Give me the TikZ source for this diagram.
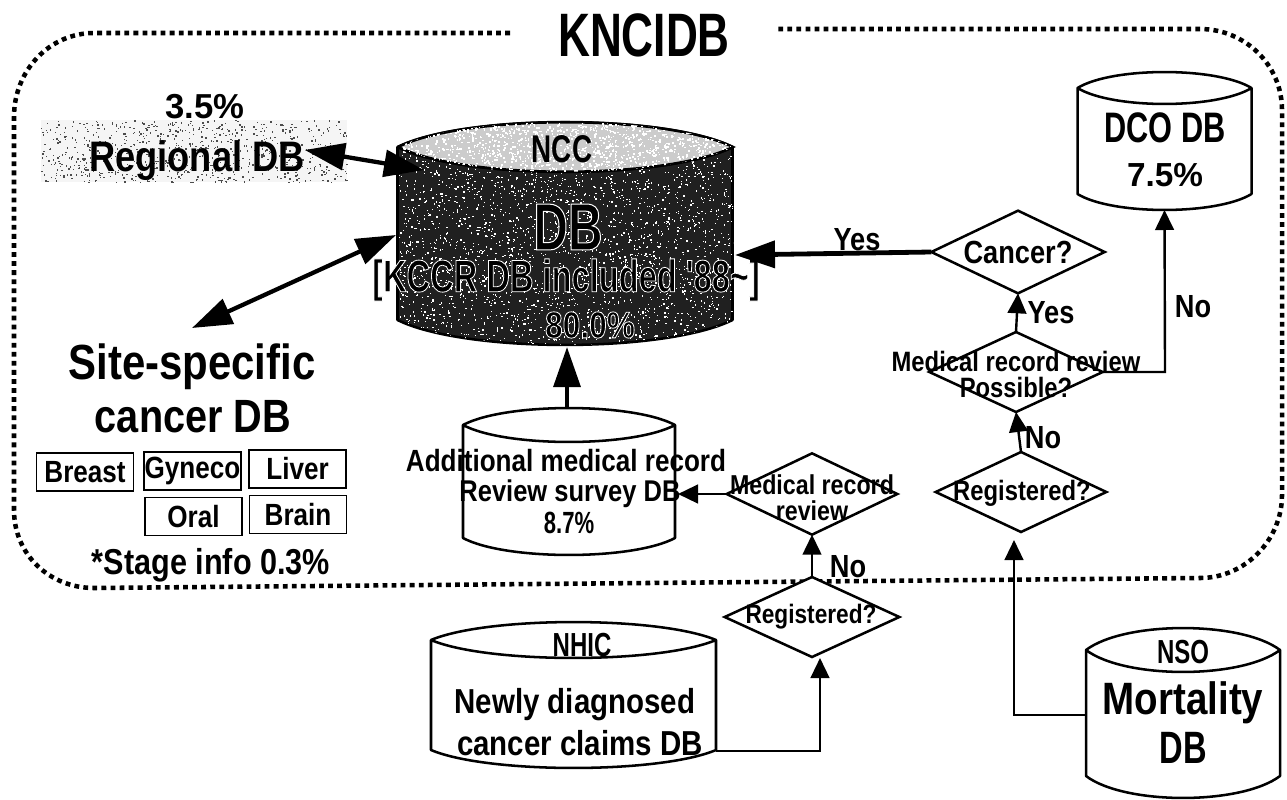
\documentclass[tikz,border=0pt]{standalone}
\usepackage{fontspec}
\usetikzlibrary{shapes.geometric,arrows.meta,calc}
\setmainfont{Liberation Sans}
\newfontfamily\nar[FakeStretch=0.72]{Liberation Sans Bold}
\newfontfamily\mdn[FakeStretch=0.85]{Liberation Sans Bold}
\newfontfamily\wid{Liberation Sans Bold}
\newcommand\fs[1]{\fontsize{#1}{#1}\selectfont}
\newcommand\hollow[2]{\special{pdf:code 2 Tr #1 w 1 1 1 RG}#2\special{pdf:code 0 Tr}}
% name, centre x, top y, bottom y, x radius, y radius, fill
\newcommand\dbcyl[7]{%
  \node[inner sep=0,outer sep=0,minimum width=#5*1.5pt,minimum height=(#4-#3)*0.75pt] (#1) at (#2,{(#3+#4)/2}) {};
  \draw[line width=1.9pt,fill=#7,line join=round] (#2-#5,#3+#6) -- (#2-#5,#4-#6)
    .. controls (#2-#5*0.6,#4+#6*0.33) and (#2+#5*0.6,#4+#6*0.33) .. (#2+#5,#4-#6)
    -- (#2+#5,#3+#6)
    .. controls (#2+#5*0.6,#3-#6*0.33) and (#2-#5*0.6,#3-#6*0.33) .. (#2-#5,#3+#6)
    .. controls (#2-#5*0.6,#3+#6*2.33) and (#2+#5*0.6,#3+#6*2.33) .. (#2+#5,#3+#6);
}
\tikzset{
  x=0.75pt,y=-0.75pt,
  txt/.style={inner sep=0,outer sep=0,align=center},
  decide/.style={draw,diamond,line width=1.9pt,inner sep=0,outer sep=0,fill=white},
  sitebox/.style={draw,line width=1.2pt,inner sep=0,outer sep=0,minimum width=73pt,minimum height=28.5pt,font=\mdn\fs{23}},
  heavy/.style={line width=3.2pt,{Triangle[length=30pt,width=20pt]}-{Triangle[length=30pt,width=20pt]}},
  heavyone/.style={line width=3.2pt,-{Triangle[length=30pt,width=20pt]}},
  thin arrow/.style={line width=1.8pt,-{Triangle[length=15pt,width=14pt]}},
}
\begin{document}
\begin{tikzpicture}
\useasboundingbox (0,0) rectangle (1287,799);
\fill[white] (0,0) rectangle (1287,799);
% dotted frame
\draw[line width=3.4pt,dash pattern=on 3.6pt off 3.2pt]
  (510,33) -- (94,33) .. controls (50,33) and (14,70) .. (14,117) -- (14,510)
  .. controls (14,555) and (50,588) .. (94,588) -- (1200,578)
  .. controls (1245,578) and (1282,540) .. (1282,495) -- (1282,110)
  .. controls (1282,65) and (1245,29) .. (1200,29) -- (776,29);
\node[txt,font=\nar\fs{46}] (title) at (644,35) {KNCIDB};
% Regional DB
\node[inner sep=0,minimum width=229pt,minimum height=46pt,fill=gray!8] (regbox) at (194,151) {};
\begin{scope}
\pgfmathsetseed{7}
\foreach \i in {1,...,800}{
  \pgfmathsetmacro\ax{41+306*rnd}\pgfmathsetmacro\ay{120+62*rnd}
  \fill[black!70] (\ax,\ay) rectangle ++(1.4,1.4);}
\end{scope}
\node[txt,font=\wid\fs{26}] (reg pct) at (205,107) {3.5\%};
\node[txt,font=\mdn\fs{32}] (regional) at (197,161) {Regional DB};
% NCC
\dbcyl{ncc}{565}{122}{345}{167.5}{25}{gray!25!black}
\begin{scope}
\clip (398,147) -- (398,320) .. controls (465,353) and (665,353) .. (733,320) -- (733,147) .. controls (665,180) and (465,180) .. (398,147);
\pgfmathsetseed{11}
\foreach \i in {1,...,2600}{
  \pgfmathsetmacro\ax{398+335*rnd}\pgfmathsetmacro\ay{146+205*rnd}
  \fill[white] (\ax,\ay) rectangle ++(1.3,1.3);}
\end{scope}
\fill[gray!40,draw=black,line width=1.9pt] (398,147) .. controls (465,114) and (665,114) .. (733,147) .. controls (665,180) and (465,180) .. (398,147);
\begin{scope}
\clip (398,147) .. controls (465,114) and (665,114) .. (733,147) .. controls (665,180) and (465,180) .. (398,147);
\pgfmathsetseed{13}
\foreach \i in {1,...,1500}{
  \pgfmathsetmacro\ax{398+335*rnd}\pgfmathsetmacro\ay{122+51*rnd}
  \fill[white] (\ax,\ay) rectangle ++(1.6,1.6);}
\end{scope}
\node[txt,font=\nar\fs{29}] (ncc name) at (562,149) {NCC};
\node[txt,font=\nar\fs{50}] (ncc db) at (568,227) {\hollow{0.75}{DB}};
\node[txt,font=\nar\fs{34}] (ncc inc) at (566,280) {\hollow{0.6}{[KCCR DB included '88\textasciitilde]}};
\node[txt,font=\mdn\fs{28}] (ncc pct) at (590,325) {\hollow{0.6}{80.0\%}};
% DCO
\dbcyl{dco}{1164.5}{72}{210}{87}{16}{white}
\node[txt,font=\nar\fs{32}] (dco name) at (1165,128) {DCO DB};
\node[txt,font=\wid\fs{25}] (dco pct) at (1165,175) {7.5\%};
% Additional
\dbcyl{add}{569}{408}{555}{106}{17}{white}
\node[txt,font=\mdn\fs{23}] (add a) at (566,461) {Additional medical record};
\node[txt,font=\mdn\fs{22.5}] (add b) at (570,494) {Review survey DB};
\node[txt,font=\nar\fs{23}] (add c) at (569,523) {8.7\%};
% NHIC
\dbcyl{nhic}{573.5}{622}{768}{142.5}{18}{white}
\node[txt,font=\nar\fs{25}] (nhic name) at (582,645) {NHIC};
\node[txt,font=\mdn\fs{26}] (nhic a) at (575,705) {Newly diagnosed};
\node[txt,font=\mdn\fs{26}] (nhic b) at (580,743) {cancer claims DB};
% NSO
\dbcyl{nso}{1183}{628}{798}{97}{22}{white}
\node[txt,font=\nar\fs{25}] (nso name) at (1183,652) {NSO};
\node[txt,font=\mdn\fs{34}] (nso a) at (1183,703) {Mortality};
\node[txt,font=\nar\fs{34}] (nso b) at (1183,748) {DB};
% site-specific
\node[txt,font=\mdn\fs{37}] (site a) at (192,367) {Site-specific};
\node[txt,font=\mdn\fs{35}] (site b) at (193,417) {cancer DB};
\node[sitebox] (breast) at (85,472) {Breast};
\node[sitebox] (gyneco) at (192.5,471) {Gyneco};
\node[sitebox] (liver) at (297.5,469) {Liver};
\node[sitebox] (oral) at (193.5,516.5) {Oral};
\node[sitebox] (brain) at (298,514.5) {Brain};
\node[txt,font=\mdn\fs{27}] (stage) at (211,565) {*Stage info 0.3\%};
% decisions
\node[decide,minimum width=130pt,minimum height=62pt] (cancer) at (1018,252) {};
\node[decide,minimum width=130pt,minimum height=60pt] (possible) at (1016,372) {};
\node[decide,minimum width=128pt,minimum height=60pt] (regr) at (1021,492) {};
\node[decide,minimum width=128pt,minimum height=61pt] (review) at (812,494) {};
\node[decide,minimum width=131pt,minimum height=60pt] (regl) at (812,617) {};
\node[txt,font=\mdn\fs{24}] (cancer t) at (1018,252) {Cancer?};
\node[txt,font=\mdn\fs{21}] (possible t) at (1016,374) {Medical record review\\[-1.5pt]Possible?};
\node[txt,font=\mdn\fs{21}] (regr t) at (1022,493) {Registered?};
\node[txt,font=\mdn\fs{20.5}] (review t) at (812,498) {Medical record\\[-1pt]review};
\node[txt,font=\mdn\fs{20}] (regl t) at (811,617) {Registered?};
% connectors
\coordinate (ncc nw) at (424,170);
\coordinate (ncc w) at (396,235);
\coordinate (site in) at (192,328);
\draw[heavy] (regional.east |- 0,150) -- (ncc nw);
\draw[heavy] (site in) -- (ncc w);
\draw[heavyone] (add.north -| 567,0) -- (567,347);
\draw[heavyone,line width=3.6pt] (cancer.west) -- (735,255);
\draw[thin arrow] (possible.north) -- (cancer.south);
\draw[thin arrow] (regr.north) -- (possible.south);
\draw[thin arrow] (possible.east) -- (1165,372) -- (dco.south);
\draw[thin arrow] (review.west) -- (678,494);
\draw[thin arrow] (regl.north) -- (review.south);
\draw[thin arrow] (nhic.east |- 0,751) -- (820,751) -- (820,658);
\draw[thin arrow] (nso.west |- 0,715) -- (1014,715) -- (1014,540);
% edge labels
\node[txt,font=\mdn\fs{24}] (yes a) at (857,240) {Yes};
\node[txt,font=\mdn\fs{24}] (yes b) at (1051,313) {Yes};
\node[txt,font=\mdn\fs{24}] (no a) at (1193,307) {No};
\node[txt,font=\mdn\fs{24}] (no b) at (1043,438) {No};
\node[txt,font=\mdn\fs{24}] (no c) at (848,567) {No};
\end{tikzpicture}
\end{document}
